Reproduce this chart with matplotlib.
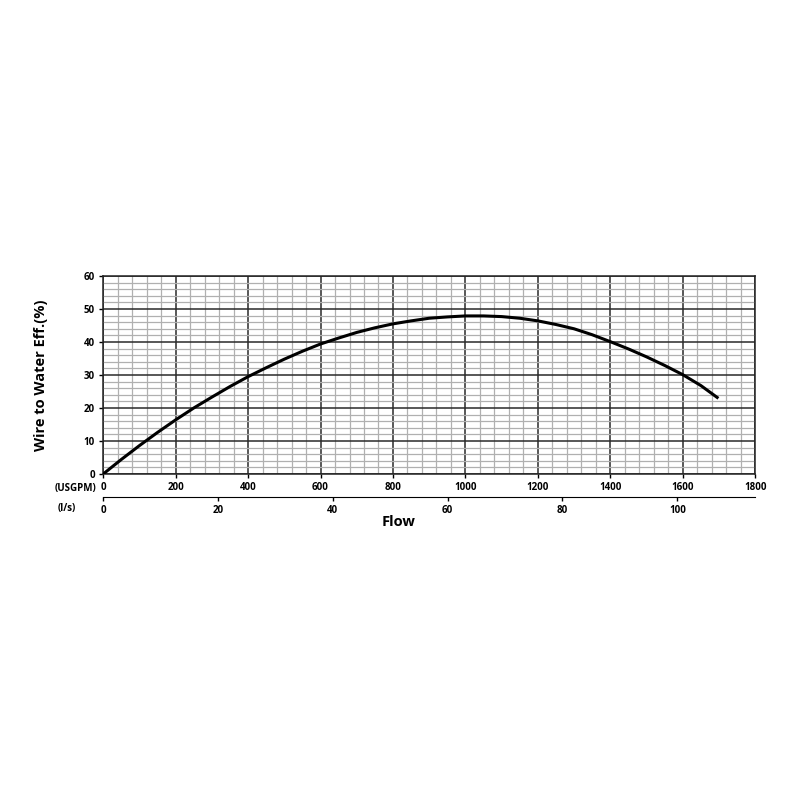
import matplotlib.pyplot as plt
from matplotlib.ticker import MultipleLocator

plt.rcParams['font.family'] = ['Open Sans', 'DejaVu Sans']

# pump curve
flow_gpm = [0, 50, 100, 150, 200, 250, 300, 350, 400, 450, 500, 550, 600, 650, 700, 750, 800, 850,
            900, 950, 1000, 1050, 1100, 1150, 1200, 1250, 1300, 1350, 1400, 1450, 1500, 1550, 1600,
            1650, 1695]
eff = [0, 4.4, 8.6, 12.6, 16.4, 20.0, 23.3, 26.5, 29.5, 32.2, 34.8, 37.2, 39.4, 41.2, 42.9, 44.3,
       45.5, 46.4, 47.2, 47.6, 47.9, 47.9, 47.7, 47.2, 46.4, 45.3, 44.0, 42.2, 40.1, 37.9, 35.5,
       32.9, 30.1, 26.8, 23.2]

gpm_ticks = [0, 200, 400, 600, 800, 1000, 1200, 1400, 1600, 1800]
ls_ticks = [0, 20, 40, 60, 80, 100]
GPM_PER_LS = 15.85

fig = plt.figure(figsize=(8, 8), dpi=100)
ax = fig.add_axes([0.129, 0.4075, 0.815, 0.2475])

ax.plot(flow_gpm, eff, color='black', lw=2.2, solid_joinstyle='round', zorder=5)

ax.set_xlim(0, 1800)
ax.set_ylim(0, 60)
ax.set_xticks(gpm_ticks)
ax.set_yticks(range(0, 61, 10))
ax.xaxis.set_minor_locator(MultipleLocator(40))
ax.yaxis.set_minor_locator(MultipleLocator(2))

ax.grid(which='major', color='#2a2a2a', lw=1.1)
ax.grid(which='minor', color='#b0b0b0', lw=0.9)
ax.set_axisbelow(True)

ax.tick_params(which='major', direction='out', length=3, width=1, labelsize=7, pad=3)
ax.tick_params(which='minor', length=0)
for s in ax.spines.values():
    s.set_color('#222222')
    s.set_linewidth(1.1)
for lbl in ax.get_xticklabels() + ax.get_yticklabels():
    lbl.set_fontweight('bold')

sec = ax.secondary_xaxis(-0.115, functions=(lambda g: g / GPM_PER_LS, lambda l: l * GPM_PER_LS))
sec.set_xticks(ls_ticks)
sec.tick_params(direction='out', length=3, width=1, labelsize=7, pad=3)
for lbl in sec.get_xticklabels():
    lbl.set_fontweight('bold')

ax.set_ylabel('Wire to Water Eff.(%)', fontsize=10.5, fontweight='bold', labelpad=26)
fig.text(0.498, 0.347, 'Flow', ha='center', va='center', fontsize=10.5, fontweight='bold')
fig.text(0.094, 0.39, '(USGPM)', ha='center', va='center', fontsize=7, fontweight='bold')
fig.text(0.084, 0.365, '(l/s)', ha='center', va='center', fontsize=7, fontweight='bold')

fig.savefig('out.png', dpi=100, facecolor='white')
